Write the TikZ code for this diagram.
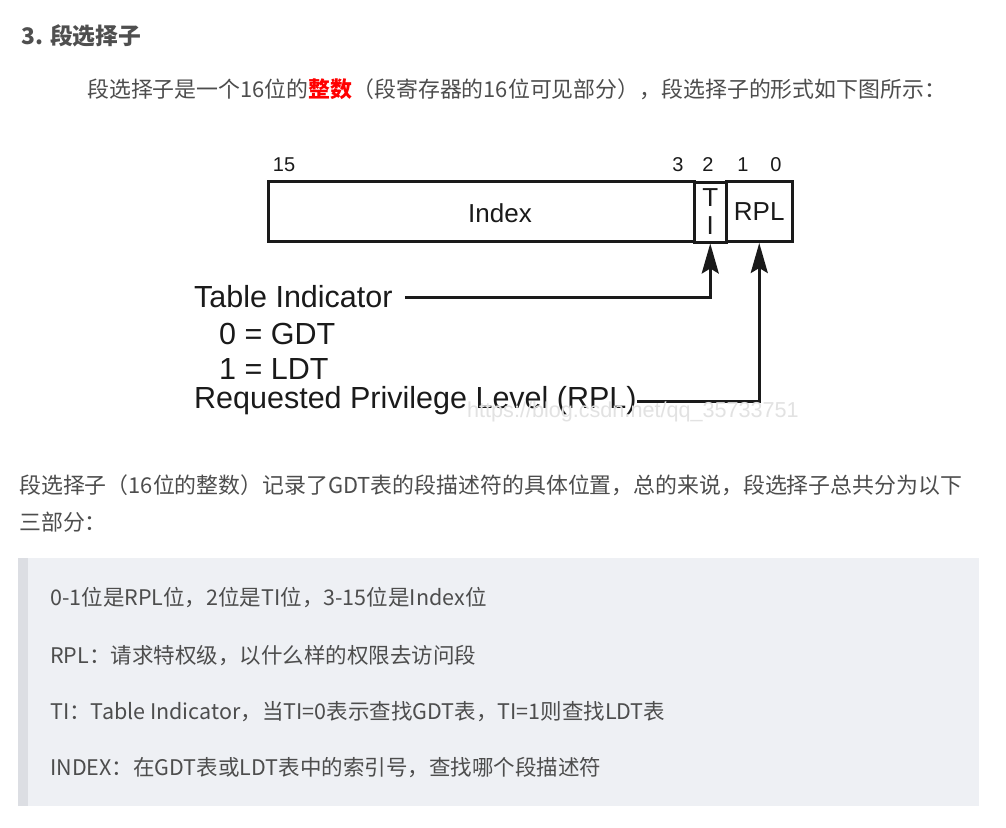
\documentclass[tikz,border=0pt]{standalone}
\usepackage{fontspec}
\usetikzlibrary{arrows.meta}
\newfontfamily\cjk{Noto Sans CJK SC}
\newfontfamily\diag{Liberation Sans}
\definecolor{bodygray}{HTML}{4D4D4D}
\definecolor{headgray}{HTML}{4F4F4F}
\definecolor{quotefill}{HTML}{EEF0F4}
\definecolor{quotebar}{HTML}{DCDEE3}
\definecolor{ink}{HTML}{1A1A1A}
\definecolor{wmark}{HTML}{E2E2E2}
\begin{document}
\begin{tikzpicture}[x=1pt,y=-1pt,
  body/.style={anchor=west,inner sep=0,text=bodygray,font=\cjk\fontsize{21.9}{25}\selectfont},
  item/.style={anchor=west,inner sep=0,text=bodygray,font=\cjk\fontsize{21.5}{24}\selectfont},
  field/.style={draw=ink,line width=3pt,minimum height=60pt,inner sep=0,text=ink,font=\diag\fontsize{26}{28}\selectfont},
  bitno/.style={inner sep=0,text=ink,font=\diag\fontsize{20}{22}\selectfont},
  legend/.style={anchor=west,inner sep=0,text=ink,font=\diag\fontsize{30.5}{32}\selectfont},
  conn/.style={draw=ink,line width=3pt,-{Stealth[length=30pt,width=17pt,inset=5pt]}}]
  \useasboundingbox[fill=white] (0,0) rectangle (1006,827);
  % text above the figure
  \node[body,font=\cjk\bfseries\fontsize{22.8}{26}\selectfont,text=headgray] (head) at (21,36) {3. 段选择子};
  \node[body] (intro) at (87,89) {段选择子是一个16位的\textbf{\color{red}整数}（段寄存器的16位可见部分），段选择子的形式如下图所示：};
  % selector layout
  \node[field,minimum width=426.5pt] (index) at (481.25,211.5) {};
  \node[field,minimum width=31.5pt,align=center] (ti) at (710.25,212) {T\\I};
  \node[field,minimum width=66.5pt] (rpl) at (759.25,211.5) {RPL};
  \node[inner sep=0,text=ink,font=\diag\fontsize{26}{28}\selectfont] (indextext) at (500,213) {Index};
  \node[bitno] (b15) at (284,165) {15};
  \node[bitno] (b3) at (678,165) {3};
  \node[bitno] (b2) at (708,165) {2};
  \node[bitno] (b1) at (743,165) {1};
  \node[bitno] (b0) at (776,165) {0};
  \node[legend] (tilabel) at (194,297) {Table Indicator};
  \node[legend] (gdt) at (219,334) {0 = GDT};
  \node[legend] (ldt) at (219,369) {1 = LDT};
  \node[legend] (rpllabel) at (194,401) {Requested Privilege Level (RPL)};
  \draw[conn] ([xshift=12pt]tilabel.east) -| (ti.south);
  \draw[conn] (rpllabel.east) -| (rpl.south);
  \node[anchor=west,inner sep=0,text=wmark,font=\diag\fontsize{21.6}{23}\selectfont] (wm) at (467,412) {https://blog.csdn.net/qq\_35733751};
  % text below the figure
  \node[body] (desc) at (19,485) {段选择子（16位的整数）记录了GDT表的段描述符的具体位置，总的来说，段选择子总共分为以下};
  \node[body] (desc2) at (19,522) {三部分：};
  \fill[quotefill] (18,558) rectangle (979,806);
  \fill[quotebar] (18,558) rectangle (28,806);
  \node[item] (it1) at (50,598) {0-1位是RPL位，2位是TI位，3-15位是Index位};
  \node[item] (it2) at (50,656) {RPL：请求特权级，以什么样的权限去访问段};
  \node[item] (it3) at (50,712) {TI：Table Indicator，当TI=0表示查找GDT表，TI=1则查找LDT表};
  \node[item] (it4) at (50,768) {INDEX：在GDT表或LDT表中的索引号，查找哪个段描述符};
\end{tikzpicture}
\end{document}
